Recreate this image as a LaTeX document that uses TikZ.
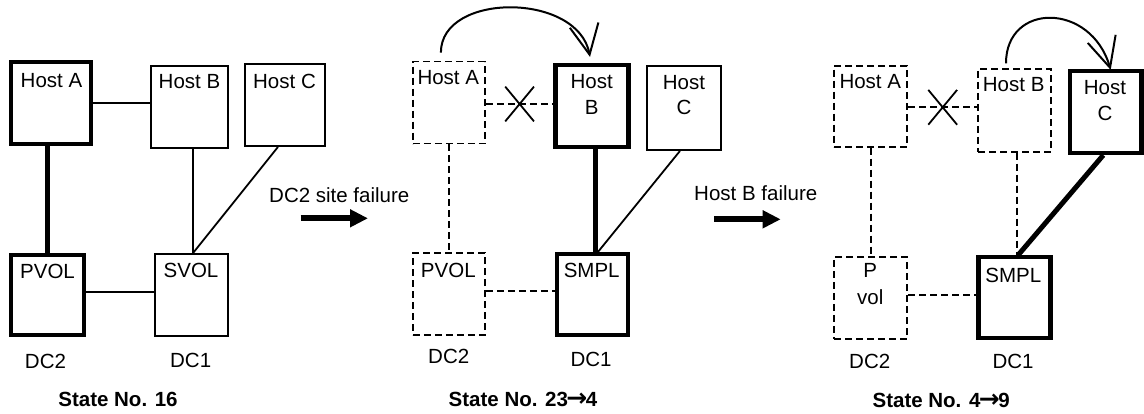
\documentclass[tikz,border=0pt]{standalone}
\usepackage{fontspec}
\setmainfont{Liberation Sans}
\newfontfamily\arrowfont{DejaVu Sans}
\usetikzlibrary{arrows.meta,calc,shapes.misc}
\newcommand{\stArrow}{{\arrowfont\bfseries\fontsize{25}{25}\selectfont\kern-1.5pt→\kern-1.5pt}}
\begin{document}
\begin{tikzpicture}[x=1pt,y=-1pt,
 lbl/.style={inner sep=0pt, font=\fontsize{20.5}{25.6}\selectfont, align=center},
 ttl/.style={inner sep=0pt, font=\fontsize{20.5}{24}\selectfont\bfseries},
 box/.style={draw, rectangle, inner sep=0pt, line width=1.8pt},
 thickbox/.style={draw, rectangle, inner sep=0pt, line width=4.2pt},
 dbox/.style={draw, rectangle, inner sep=0pt, line width=1.8pt, dash pattern=on 7pt off 4pt},
 thinline/.style={line width=1.8pt},
 heavy/.style={line width=5pt},
 dline/.style={line width=1.8pt, dash pattern=on 7pt off 4pt},
 xmark/.style={cross out, draw, solid, inner sep=0pt, line width=1.8pt, minimum width=27pt, minimum height=33pt},
 bigarrow/.style={line width=6pt, -{Triangle[length=18pt,width=17pt]}},
 curvearrow/.style={line width=2pt, -{Straight Barb[length=30pt,width=29pt,line width=2pt]}}
]
\fill[white] (0,0) rectangle (1144,413);
\useasboundingbox (0,0) rectangle (1144,413);

% ---------- Panel 1 ----------
\node[thickbox, minimum width=80pt, minimum height=82pt] (p1ha) at (51,103) {};
\node[lbl] (p1hat) at (51.5,81) {Host A};
\node[box, minimum width=77pt, minimum height=82pt] (p1hb) at (189.5,107) {};
\node[lbl] (p1hbt) at (189.5,82) {Host B};
\node[box, minimum width=80pt, minimum height=82pt] (p1hc) at (285,105) {};
\node[lbl] (p1hct) at (284.5,81) {Host C};
\node[thickbox, minimum width=73pt, minimum height=80pt] (p1pv) at (47.5,295) {};
\node[lbl] (p1pvt) at (47.5,271.7) {PVOL};
\node[box, minimum width=73pt, minimum height=82pt] (p1sv) at (191.5,295) {};
\node[lbl] (p1svt) at (191,270.7) {SVOL};

\draw[thinline] (p1ha.east) -- (p1ha.east -| p1hb.west);
\draw[heavy] (p1pv.north) -- (p1pv.north |- p1ha.south);
\coordinate (p1b) at ($(p1hb.south)+(3.5,0)$);
\draw[thinline] (p1b) -- (p1b |- p1sv.north);
\draw[thinline] ($(p1hc.south)+(-7,0)$) -- (p1b |- p1sv.north);
\coordinate (p1p) at ($(p1pv.east)+(0,-3.3)$);
\draw[thinline] (p1p) -- (p1p -| p1sv.west);

\node[lbl] (p1dc2) at (45.5,361.7) {DC2};
\node[lbl] (p1dc1) at (190.7,360) {DC1};
\node[ttl] (p1st) at (118,399) {State No. 16};

% ---------- Transition 1 ----------
\node[lbl, anchor=west] (t1) at (269,195) {DC2 site failure};
\coordinate (t1a) at (300.7,218.3);
\coordinate (t1b) at (368,218.3);
\draw[bigarrow] (t1a) -- (t1b);

% ---------- Panel 2 ----------
\node[dbox, minimum width=72pt, minimum height=82pt] (p2ha) at (448.9,102.5) {};
\node[lbl] (p2hat) at (448.3,77.3) {Host A};
\node[thickbox, minimum width=73pt, minimum height=82pt] (p2hb) at (592,106) {};
\node[lbl] (p2hbt) at (591.7,94.5) {Host\\B};
\node[box, minimum width=74pt, minimum height=84pt] (p2hc) at (684,108) {};
\node[lbl] (p2hct) at (684,95) {Host\\C};
\node[dbox, minimum width=72pt, minimum height=82pt] (p2pv) at (448.9,294) {};
\node[lbl] (p2pvt) at (448.3,270) {PVOL};
\node[thickbox, minimum width=71pt, minimum height=81pt] (p2sm) at (592.5,294.5) {};
\node[lbl] (p2smt) at (591.7,270.7) {SMPL};

\coordinate (p2a) at ($(p2ha.east)+(0,1.5)$);
\draw[dline] (p2a) -- (p2a -| p2hb.west) node[midway, xmark] (p2x) {};
\draw[dline] (p2ha.south) -- (p2ha.south |- p2pv.north);
\coordinate (p2b) at ($(p2hb.south)+(3,0)$);
\draw[heavy] (p2b) -- (p2b |- p2sm.north);
\draw[thinline] ($(p2hc.south)+(-4,0)$) -- ($(p2sm.north)+(5.5,0)$);
\coordinate (p2p) at ($(p2pv.east)+(0,-3.3)$);
\draw[dline] (p2p) -- (p2p -| p2sm.west);
\coordinate (p2c0) at ($(p2ha.north)+(-8,-8)$);
\coordinate (p2c1) at ($(p2hb.north)+(-2,-6)$);
\draw[curvearrow] (p2c0) .. controls (440.7,-8) and (578,-8) .. (p2c1);

\node[lbl] (p2dc2) at (448.7,356.7) {DC2};
\node[lbl] (p2dc1) at (591,359.3) {DC1};
\node[ttl] (p2st) at (523,399) {State No. 23\stArrow4};

% ---------- Transition 2 ----------
\node[lbl, anchor=west] (t2) at (694,193.5) {Host B failure};
\coordinate (t2a) at (714,219.3);
\coordinate (t2b) at (780.7,219.3);
\draw[bigarrow] (t2a) -- (t2b);

% ---------- Panel 3 ----------
\node[dbox, minimum width=73pt, minimum height=81pt] (p3ha) at (870.7,106.2) {};
\node[lbl] (p3hat) at (870.3,81.7) {Host A};
\node[dbox, minimum width=73pt, minimum height=83pt] (p3hb) at (1014.7,110.3) {};
\node[lbl] (p3hbt) at (1013.7,85) {Host B};
\node[thickbox, minimum width=71.5pt, minimum height=82pt] (p3hc) at (1105.7,112) {};
\node[lbl] (p3hct) at (1105,100.8) {Host\\C};
\node[dbox, minimum width=73pt, minimum height=82pt] (p3pv) at (870.7,297.8) {};
\node[lbl, font=\fontsize{20.5}{26.7}\selectfont] (p3pvt) at (870.3,284.3) {P\\vol};
\node[thickbox, minimum width=72pt, minimum height=81pt] (p3sm) at (1014.5,297.5) {};
\node[lbl] (p3smt) at (1013.3,275) {SMPL};

\coordinate (p3a) at ($(p3ha.east)+(0,1.1)$);
\draw[dline] (p3a) -- (p3a -| p3hb.west) node[midway, xmark] (p3x) {};
\draw[dline] (p3ha.south) -- (p3ha.south |- p3pv.north);
\coordinate (p3b) at ($(p3hb.south)+(2.6,0)$);
\draw[dline] (p3b) -- (p3b |- p3sm.north);
\draw[heavy] ($(p3hc.south)+(-2.4,0)$) -- ($(p3sm.north)+(3.8,0)$);
\coordinate (p3p) at ($(p3pv.east)+(0,-2.8)$);
\draw[dline] (p3p) -- (p3p -| p3sm.west);
\coordinate (p3c0) at ($(p3hb.north)+(-8.7,-4.6)$);
\coordinate (p3c1) at ($(p3hc.north)+(5,1)$);
\draw[curvearrow] (p3c0) .. controls (1006,2) and (1091,2) .. (p3c1);

\node[lbl] (p3dc2) at (869.7,361.7) {DC2};
\node[lbl] (p3dc1) at (1013,361) {DC1};
\node[ttl] (p3st) at (941.2,400) {State No. 4\stArrow9};
\end{tikzpicture}
\end{document}
